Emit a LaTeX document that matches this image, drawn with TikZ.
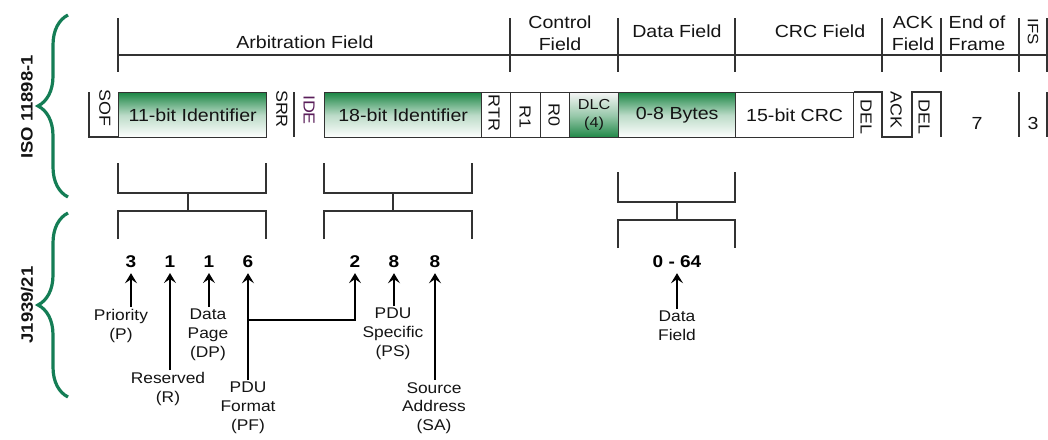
\documentclass[tikz,border=0pt]{standalone}
\usepackage{fontspec}
\setmainfont{Liberation Sans}[FakeStretch=1.12]
\usetikzlibrary{arrows.meta, positioning, calc, decorations.pathreplacing}
\definecolor{cangreen}{RGB}{30,135,70}
\definecolor{bracegreen}{RGB}{20,125,85}
\definecolor{idepurple}{RGB}{90,30,90}
\definecolor{inkgray}{RGB}{20,20,20}
\definecolor{linegray}{RGB}{50,50,50}

\begin{document}
\begin{tikzpicture}[x=1pt, y=-1pt,
  ln/.style={draw=linegray, line width=1.3pt},
  hdr/.style={font=\fontsize{17.5}{22}\selectfont, text=inkgray, align=center, inner sep=0pt},
  bitbox/.style={draw=linegray, line width=1.3pt, minimum height=45pt,
                 anchor=north west, inner sep=0pt,
                 font=\fontsize{17.5}{19}\selectfont, text=inkgray},
  greenbox/.style={bitbox, top color=cangreen, bottom color=white, middle color=cangreen!30},
  dlcbox/.style={bitbox, top color=gray!8, bottom color=cangreen, middle color=cangreen!45,
                 align=center, font=\fontsize{14.5}{18}\selectfont},
  bittxt/.style={font=\fontsize{17.5}{19}\selectfont, text=inkgray, inner sep=0pt},
  rot/.style={rotate=-90, font=\fontsize{16}{17}\selectfont, text=inkgray, inner sep=0pt},
  num/.style={font=\bfseries\fontsize{17}{19}\selectfont, text=black, inner sep=1pt},
  lbl/.style={font=\fontsize{15.5}{18.8}\selectfont, text=inkgray, align=center, inner sep=2pt},
  arr/.style={-{Stealth[length=10pt, width=12pt, inset=4pt]}, line width=1.4pt, black, shorten >=4pt},
  brc/.style={decorate, decoration={brace, amplitude=30pt}, draw=bracegreen, line width=3.2pt},
  side/.style={font=\bfseries\fontsize{16.5}{18}\selectfont, rotate=90, text=inkgray},
]
\useasboundingbox (0,0) rectangle (1048,439);

% Side braces
\draw[brc] (68,197) -- (68,15);
\draw[brc] (68,397) -- (68,213);
\node[side] (iso) at (27,107) {ISO 11898-1};
\node[side] (j1939) at (27,305) {J1939/21};

% Header fields
\foreach \x in {118,510,618,735,882,941,1019,1047}
  \draw[ln] (\x,18) -- (\x,72);
\draw[ln] (118,55) -- (1047,55);
\node[hdr] (arbf) at (305,42) {Arbitration Field};
\node[hdr] (ctlf) at (560,33) {Control\\Field};
\node[hdr] (datf) at (677,31) {Data Field};
\node[hdr] (crcf) at (820,31) {CRC Field};
\node[hdr] (ackf) at (913,33) {ACK\\Field};
\node[hdr] (eoff) at (977,33) {End of\\Frame};
\node[rot, font=\fontsize{15}{16}\selectfont] (ifsf) at (1033,32) {IFS};

% Bit row
\draw[ln] (118,137) -- (89,137) -- (89,92);
\node[rot] (sof) at (105,108) {SOF};
\node[greenbox, minimum width=148pt] (id11) at (118,92) {11-bit Identifier};
\draw[ln] (294,92) -- (294,137);
\node[rot] (srr) at (282,109) {SRR};
\node[rot, text=idepurple] (ide) at (309,110) {IDE};
\node[greenbox, minimum width=157pt] (id18) at (324,92) {18-bit Identifier};
\node[bitbox, minimum width=29pt] (rtrb) at (481,92) {};
\node[rot] (rtr) at (494,113) {RTR};
\node[bitbox, minimum width=30pt] (r1b) at (510,92) {};
\node[rot] (r1) at (525,117) {R1};
\node[bitbox, minimum width=29pt] (r0b) at (540,92) {};
\node[rot] (r0) at (554,115) {R0};
\node[dlcbox, minimum width=49pt] (dlc) at (569,92) {DLC\\(4)};
\node[greenbox, minimum width=117pt] (data) at (618,92) {0-8 Bytes};
\node[bitbox, minimum width=118pt] (crc) at (735,92) {15-bit CRC};
\draw[ln] (crc.north east) -- (882,92) -- (882,137) -- (912,137) -- (912,92) -- (941,92) -- (941,137);
\draw[ln] (1019,92) -- (1019,137);
\draw[ln] (1047,92) -- (1047,137);
\node[rot] (del1) at (866,117) {DEL};
\node[rot] (ack) at (896,110) {ACK};
\node[rot] (del2) at (924,117) {DEL};
\node[bittxt] (eof) at (977,123) {7};
\node[bittxt] (ifs) at (1033,123) {3};

% Brackets
\foreach \a/\b/\m/\t in {118/266/188/163, 324/472/393/163, 618/735/677/172} {
  \draw[ln] (\a,\t) -- (\a,\t+30) -- (\b,\t+30) -- (\b,\t);
  \draw[ln] (\m,\t+30) -- (\m,\t+48);
  \draw[ln] (\a,\t+76) -- (\a,\t+48) -- (\b,\t+48) -- (\b,\t+76);
}

% J1939 bits
\node[num] (dP)  at (131,262) {3};
\node[num] (dR)  at (170,262) {1};
\node[num] (dDP) at (209,262) {1};
\node[num] (dPF) at (248,262) {6};
\node[num] (dPS2) at (355,262) {2};
\node[num] (dPS) at (394,262) {8};
\node[num] (dSA) at (435,262) {8};
\node[num] (dDF) at (677,262) {0 - 64};

\node[lbl] (lP)  at (121,326) {Priority\\(P)};
\node[lbl] (lR)  at (168,389) {Reserved\\(R)};
\node[lbl] (lDP) at (208,335) {Data\\Page\\(DP)};
\node[lbl] (lPF) at (248,408) {PDU\\Format\\(PF)};
\node[lbl] (lPS) at (393,334) {PDU\\Specific\\(PS)};
\node[lbl] (lSA) at (434,408) {Source\\Address\\(SA)};
\node[lbl] (lDF) at (677,326) {Data\\Field};

\draw[arr] (lP.north -| dP.south) -- (dP.south);
\draw[arr] (lR.north -| dR.south) -- (dR.south);
\draw[arr] (lDP.north -| dDP.south) -- (dDP.south);
\draw[arr] (lPF.north -| dPF.south) -- (dPF.south);
\draw[arr] (lPS.north -| dPS.south) -- (dPS.south);
\draw[arr] (lSA.north -| dSA.south) -- (dSA.south);
\draw[arr] (lDF.north -| dDF.south) -- (dDF.south);
\coordinate (pfjoin) at (248,320);
\draw[arr] (pfjoin) -| (dPS2.south);
\end{tikzpicture}
\end{document}
